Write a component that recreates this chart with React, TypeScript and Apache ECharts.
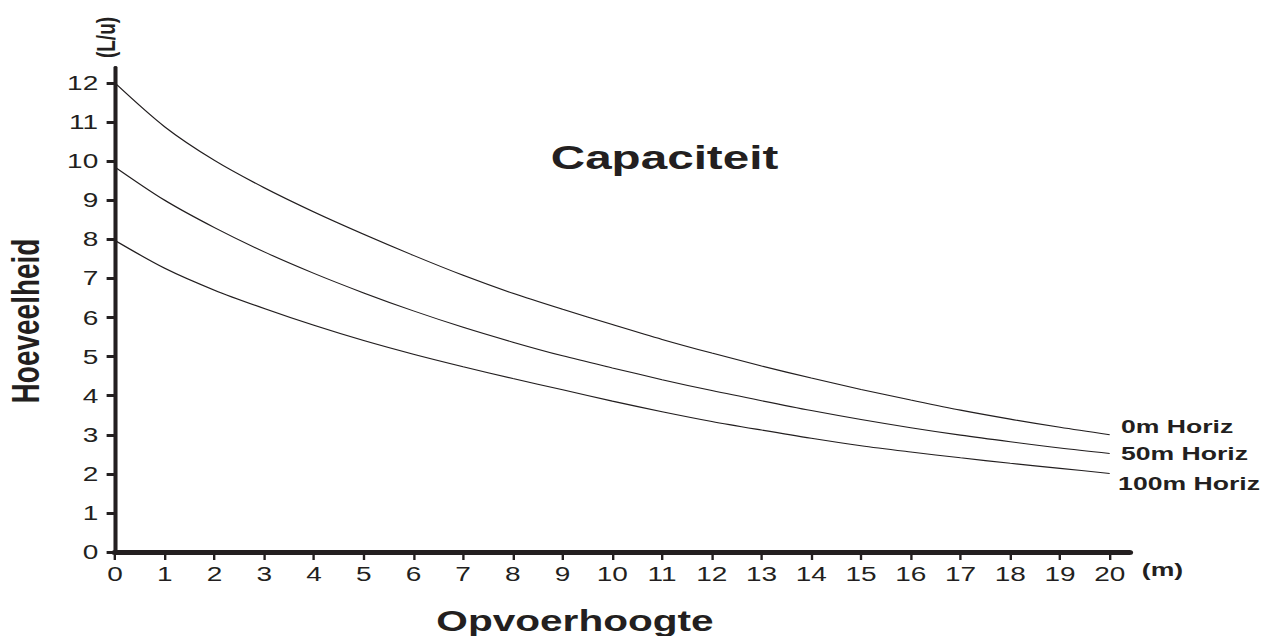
import React, { useEffect, useRef } from "react";
import * as echarts from "echarts";

const heights = [0, 1, 2, 3, 4, 5, 6, 7, 8, 9, 10, 11, 12, 13, 14, 15, 16, 17, 18, 19, 20];
const yTicks = [0, 1, 2, 3, 4, 5, 6, 7, 8, 9, 10, 11, 12];
const seriesNames = ["0m Horiz", "50m Horiz", "100m Horiz"];
const flow0m = [12.0, 10.88, 10.02, 9.32, 8.7, 8.13, 7.59, 7.08, 6.62, 6.21, 5.82, 5.44, 5.09, 4.76, 4.45, 4.16, 3.89, 3.63, 3.4, 3.19, 3.0];
const flow50m = [9.85, 9.0, 8.3, 7.68, 7.13, 6.63, 6.17, 5.75, 5.37, 5.02, 4.71, 4.41, 4.13, 3.87, 3.62, 3.39, 3.18, 2.99, 2.82, 2.66, 2.52];
const flow100m = [7.97, 7.26, 6.7, 6.23, 5.8, 5.41, 5.06, 4.74, 4.44, 4.15, 3.86, 3.59, 3.34, 3.12, 2.91, 2.72, 2.56, 2.41, 2.27, 2.14, 2.01];

const SX = 1.4;
const W = 1266;
const H = 636;
const INK = "#231f20";
const FONT = "'Liberation Sans', Arial, sans-serif";

export default function App() {
  const ref = useRef<HTMLDivElement>(null);
  useEffect(() => {
    if (!ref.current) return;
    const chart = echarts.init(ref.current, undefined, { renderer: "svg" });
    const flows = [flow0m, flow50m, flow100m];
    const labelOffsets = [[0, -8], [0, 0], [-2, 10]];
    const series = flows.map((vals, i) => ({
      name: seriesNames[i],
      type: "line",
      data: heights.map((h, j) => [h, vals[j]]),
      smooth: 0.3,
      showSymbol: false,
      symbol: "none",
      lineStyle: { color: INK, width: 1.1 },
      endLabel: {
        show: true,
        formatter: (p: any) => p.seriesName,
        distance: 8,
        offset: labelOffsets[i],
        fontFamily: FONT,
        fontWeight: "bold",
        fontSize: 19,
        color: INK,
      },
      z: 3,
    }));
    chart.setOption({
      animation: false,
      backgroundColor: "#ffffff",
      grid: { left: 115 / SX, right: W / SX - 1130 / SX, top: 67.4, bottom: 84, containLabel: false },
      xAxis: {
        type: "value",
        min: 0,
        max: 20.4,
        axisLine: { show: true, lineStyle: { color: INK, width: 5 } },
        axisTick: {
          show: true,
          customValues: heights,
          length: 8,
          inside: false,
          lineStyle: { color: INK, width: 1.7 },
        },
        axisLabel: {
          customValues: heights,
          margin: 12,
          fontFamily: FONT,
          fontSize: 20,
          color: INK,
        },
        splitLine: { show: false },
      },
      yAxis: {
        type: "value",
        min: 0,
        max: 12.4,
        axisLine: { show: true, lineStyle: { color: INK, width: 2.9 } },
        axisTick: {
          show: true,
          customValues: yTicks,
          length: 6,
          lineStyle: { color: INK, width: 3 },
        },
        axisLabel: {
          customValues: yTicks,
          margin: 12,
          fontFamily: FONT,
          fontSize: 20,
          color: INK,
        },
        splitLine: { show: false },
      },
      series,
      graphic: [
        {
          type: "text",
          x: 664.5 / SX,
          y: 157,
          style: { text: "Capaciteit", fontFamily: FONT, fontWeight: "bold", fontSize: 34, fill: INK, align: "center", verticalAlign: "middle" },
        },
        {
          type: "text",
          x: 575 / SX,
          y: 621,
          style: { text: "Opvoerhoogte", fontFamily: FONT, fontWeight: "bold", fontSize: 29, fill: INK, align: "center", verticalAlign: "middle" },
        },
        {
          type: "text",
          x: 1162.5 / SX,
          y: 569,
          style: { text: "(m)", fontFamily: FONT, fontWeight: "bold", fontSize: 19, fill: INK, align: "center", verticalAlign: "middle" },
        },
        {
          type: "text",
          x: 25 / SX,
          y: 321,
          rotation: Math.PI / 2,
          style: { text: "Hoeveelheid", fontFamily: FONT, fontWeight: "bold", fontSize: 28, fill: INK, align: "center", verticalAlign: "middle" },
        },
        {
          type: "text",
          x: 106 / SX,
          y: 37.5,
          rotation: Math.PI / 2,
          style: { text: "(L/u)", fontFamily: FONT, fontWeight: "bold", fontSize: 19, fill: INK, align: "center", verticalAlign: "middle" },
        },
      ],
    });
    return () => chart.dispose();
  }, []);
  return (
    <div style={{ position: "fixed", left: 0, top: 0, width: W, height: H, overflow: "hidden", background: "#fff" }}>
      <div
        ref={ref}
        style={{ width: W / SX, height: H, transform: `scaleX(${SX})`, transformOrigin: "0 0" }}
      />
    </div>
  );
}
